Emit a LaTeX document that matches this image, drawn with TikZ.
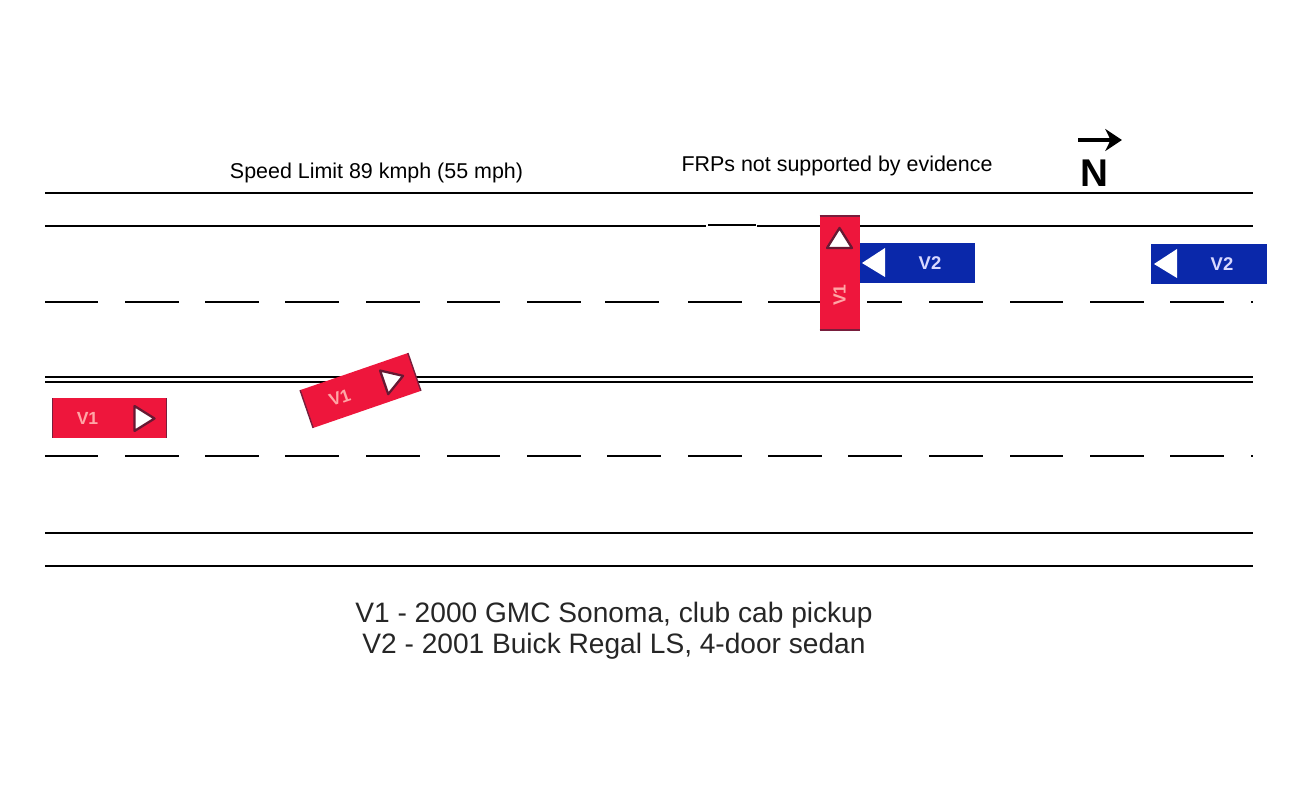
\documentclass[tikz,border=0pt]{standalone}
\usepackage{fontspec}
\setmainfont{Liberation Sans}
\usetikzlibrary{arrows.meta}

\definecolor{carred}{RGB}{238,22,60}
\definecolor{caredge}{RGB}{120,30,60}
\definecolor{carblue}{RGB}{10,40,170}

\tikzset{
  roadline/.style={line width=0.85pt,black},
  caption/.style={font=\fontsize{12.2}{14}\selectfont,inner sep=0pt},
  legend/.style={font=\fontsize{16}{18}\selectfont,inner sep=0pt,text=black!85},
  redcar/.pic={
    \fill[carred] (-57,-20) rectangle (57,20);
    \draw[caredge,line width=0.8pt] (-57,-20) -- (-57,20) (57,-20) -- (57,20);
    \node[transform shape,text=red!35!white,font=\bfseries\fontsize{10}{12}\selectfont,inner sep=0pt] (-label) at (-22,0) {V1};
    \draw[caredge!85!black,line width=1.3pt,fill=white,line join=round] (25,-12.5) -- (45,0) -- (25,12.5) -- cycle;
  },
  bluecar/.pic={
    \fill[carblue] (-58,-20) rectangle (58,20);
    \node[transform shape,text=blue!15!white,font=\bfseries\fontsize{10.5}{12}\selectfont,inner sep=0pt] (-label) at (13,0) {V2};
    \fill[white] (-55,0) -- (-32,-15) -- (-32,14) -- cycle;
  }
}

\begin{document}
\begin{tikzpicture}[x=0.02cm,y=-0.02cm]
  \useasboundingbox (0,0) rectangle (1296,800);

  % road edges
  \draw[roadline] (45,193) -- (1253,193);
  \draw[roadline] (45,226) -- (706,226) (708,225) -- (756,225) (757,226) -- (1253,226);
  \draw[roadline] (45,377) -- (1253,377) (45,382) -- (1253,382);
  \draw[roadline] (45,533) -- (1253,533);
  \draw[roadline] (45,566) -- (1253,566);

  % lane dashes
  \foreach \a/\b in {45/98,125/179,205/259,285/339,366/420,447/500,527/581,605/659,688/742,768/820,867/902,929/983,1010/1063,1090/1144,1170/1224,1251/1253}
    \draw[roadline] (\a,302) -- (\b,302);
  \foreach \a/\b in {45/98,125/179,205/259,285/339,366/420,447/500,527/581,607/661,688/742,768/822,848/902,929/983,1010/1063,1090/1144,1170/1224,1251/1253}
    \draw[roadline] (\a,456) -- (\b,456);

  % vehicles
  \pic (V2a) at (917,263) {bluecar};
  \pic (V2b) at (1209,264) {bluecar};
  \pic (V1a) at (109.5,418.5) {redcar};
  \pic[rotate=19] (V1b) at (360.5,390.5) {redcar};
  \pic[rotate=90] (V1c) at (839.5,273) {redcar};

  % north arrow
  \coordinate (Nstart) at (1078,140);
  \coordinate (Nend) at (1122,140);
  \draw[line width=2pt,-{Stealth[length=9.5pt,width=12.5pt,inset=3pt]}] (Nstart) -- (Nend);
  \node[inner sep=0pt,font=\bfseries\fontsize{22}{24}\selectfont] (north) at (1094,173.5) {N};

  % labels
  \node[caption] (limit) at (376.5,173) {Speed Limit 89 kmph (55 mph)};
  \node[caption] (frp) at (837,166) {FRPs not supported by evidence};
  \node[legend] (legendA) at (614,615) {V1 - 2000 GMC Sonoma, club cab pickup};
  \node[legend] (legendB) at (614,646) {V2 - 2001 Buick Regal LS, 4-door sedan};
\end{tikzpicture}
\end{document}
